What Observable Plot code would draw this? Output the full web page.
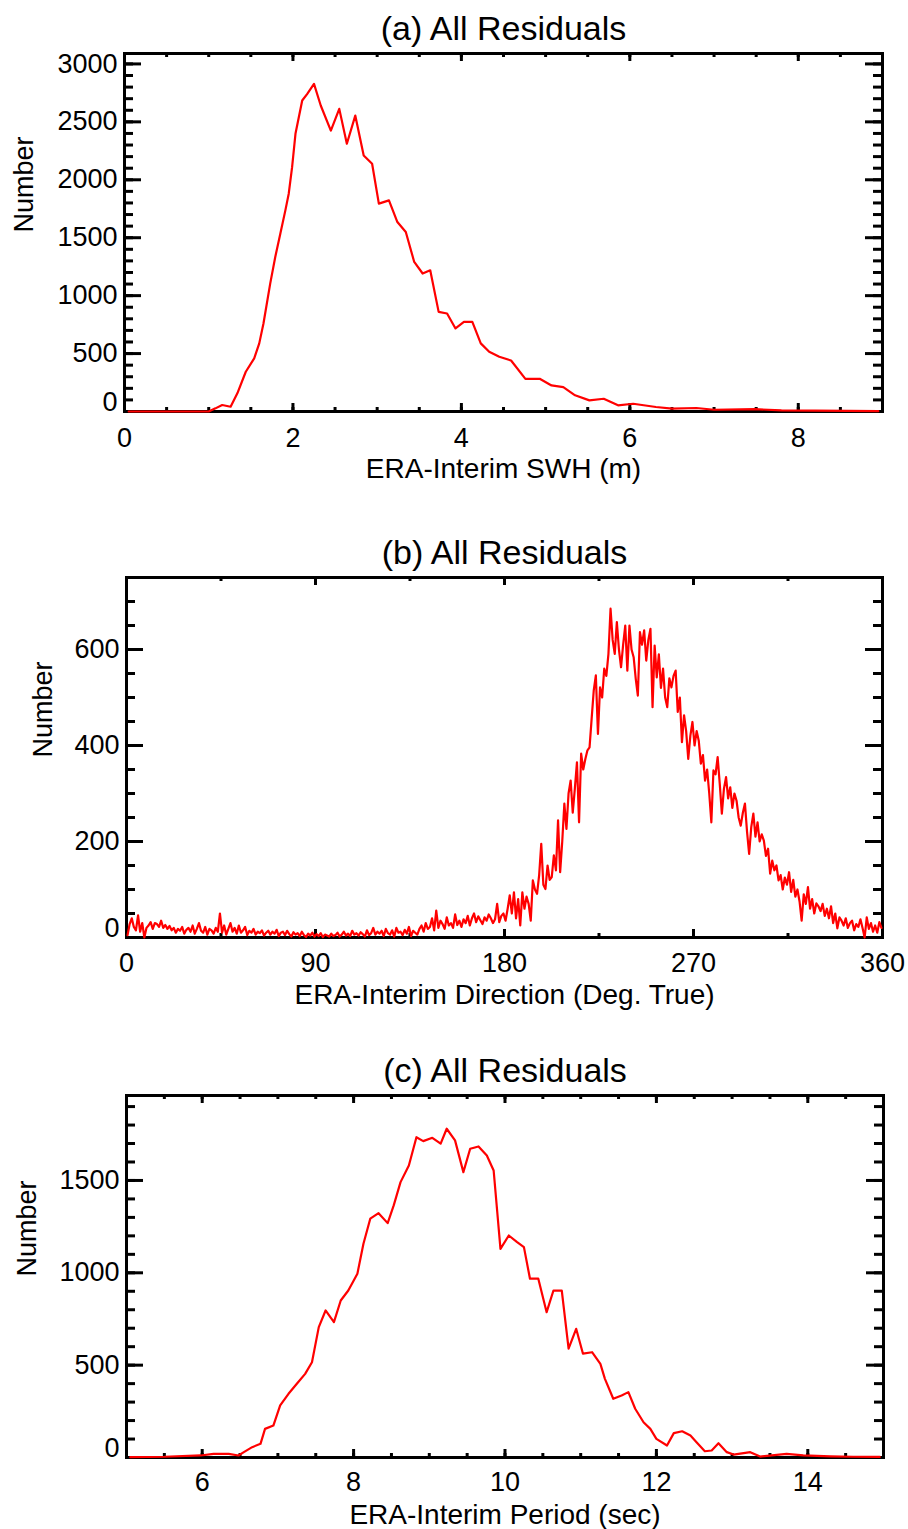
<!DOCTYPE html>
<html><head><meta charset="utf-8">
<script src="https://cdn.jsdelivr.net/npm/d3@7"></script>
<script src="https://cdn.jsdelivr.net/npm/@observablehq/plot@0.6"></script>
<style>
body{margin:0;background:#fff;}
#chart svg{display:block;}
</style></head><body><div id="chart"></div>
<script>
// ---------- Panel (a): ERA-Interim SWH ----------
const swhX = [0.05,0.5,1.0,1.08,1.16,1.26,1.34,1.44,1.54,1.60,1.65,1.73,1.79,1.85,1.91,1.95,1.99,2.03,2.11,2.17,2.25,2.33,2.45,2.55,2.64,2.74,2.84,2.94,3.02,3.14,3.24,3.34,3.44,3.54,3.63,3.73,3.83,3.93,4.03,4.13,4.23,4.33,4.45,4.59,4.76,4.93,5.07,5.21,5.35,5.52,5.69,5.86,6.04,6.31,6.5,6.79,7.0,7.48,7.8,8.2,8.6,8.95];
const swhN = [0,0,0,27,56,41,157,343,458,588,760,1104,1334,1535,1736,1880,2109,2397,2684,2741,2828,2641,2425,2612,2311,2554,2210,2138,1794,1822,1635,1549,1291,1191,1219,860,846,717,774,774,588,515,472,440,282,282,225,211,140,96,110,53,67,39,25,30,15,20,10,8,5,3];
const swhXTicks = [0,2,4,6,8];
const swhYTicks = [0,500,1000,1500,2000,2500,3000];

// ---------- Panel (b): ERA-Interim Direction (1-degree bins) ----------
const dirCounts = [
5,28,40,22,15,46,12,30,0,20,
25,32,18,30,28,22,35,20,26,18,
24,15,20,10,18,14,22,8,16,20,
12,25,8,18,30,14,10,22,6,18,
15,8,20,12,50,10,25,6,18,30,
12,20,8,25,10,15,22,5,14,10,
18,6,12,9,15,4,10,14,6,12,
8,16,3,10,12,5,14,7,2,11,
6,9,3,12,5,1,8,4,10,2,
7,3,9,1,6,4,2,8,3,5,
10,2,6,12,4,8,3,14,6,9,
4,11,7,2,15,5,9,20,6,12,
8,14,3,18,9,6,15,2,20,10,
12,5,16,8,22,3,14,10,6,18,
25,12,30,18,22,40,15,56,20,35,
28,18,42,25,30,20,48,26,35,22,
38,30,45,25,40,50,32,44,36,28,
42,35,48,40,30,38,70,32,45,50,
35,60,88,50,94,40,80,25,94,60,
85,70,35,119,100,91,130,195,110,101,
150,120,126,171,140,244,136,200,279,226,
300,327,260,310,365,240,383,350,372,390,
396,456,515,546,424,521,500,560,545,591,
685,620,591,657,600,563,610,650,556,650,
600,584,539,504,636,610,640,577,620,643,
480,608,542,590,520,560,500,480,540,521,
545,556,470,500,407,463,430,372,420,449,
400,430,410,362,380,327,350,300,240,348,
340,376,320,258,310,334,290,313,270,300,
285,250,233,260,279,220,174,230,258,210,
240,200,215,202,170,185,133,160,140,150,
119,130,100,125,110,136,95,120,85,100,
75,35,90,70,105,60,80,50,71,65,
55,70,45,60,40,65,30,50,19,42,
35,25,40,20,30,35,15,28,22,38,
20,0,42,18,30,12,25,10,32,20];
const dirBinWidth = 1;
const dirXTicks = [0,90,180,270,360];
const dirYTicks = [0,200,400,600];

// ---------- Panel (c): ERA-Interim Period ----------
const perX = [5.05,5.5,5.98,6.15,6.35,6.48,6.55,6.66,6.77,6.83,6.94,7.03,7.14,7.25,7.36,7.45,7.54,7.63,7.74,7.83,7.93,8.05,8.13,8.22,8.33,8.45,8.53,8.62,8.73,8.83,8.92,9.04,9.15,9.23,9.34,9.45,9.54,9.65,9.76,9.85,9.94,10.05,10.16,10.25,10.33,10.44,10.55,10.64,10.75,10.84,10.94,11.03,11.15,11.26,11.32,11.43,11.54,11.63,11.72,11.83,11.92,12.0,12.14,12.23,12.34,12.45,12.53,12.64,12.73,12.82,12.93,13.02,13.24,13.37,13.72,13.94,14.3,14.6,14.95];
const perN = [2,4,11,20,20,11,29,56,74,155,173,282,345,399,453,516,706,796,733,850,904,995,1157,1293,1323,1269,1365,1491,1581,1734,1713,1731,1699,1780,1717,1545,1672,1684,1635,1554,1130,1202,1166,1139,968,968,787,904,904,589,697,562,570,507,426,318,336,354,264,191,155,101,65,132,142,119,83,34,38,77,29,16,29,5,20,11,6,4,3];
const perXTicks = [6,8,10,12,14];
const perYTicks = [0,500,1000,1500];

const FONT = "'Liberation Sans', Arial, Helvetica, sans-serif";
const RED = "#ff0000";
const fmt = d => String(d);

function panel(o) {
  const {data, xDomain, yDomain, xTicks, xMinor, yTicks, yMinor, title, xLabel,
         height, mt, mb, ml, mr, numberDx, xPad} = o;
  const W = 908 - ml - mr;          // frame width in px
  const H = height - mt - mb;       // frame height in px
  const yTicksNZ = yTicks.filter(d => d !== 0);
  const tk = {stroke: "black", strokeWidth: 3};
  return Plot.plot({
    width: 908, height,
    marginTop: mt, marginBottom: mb, marginLeft: ml, marginRight: mr,
    style: {fontFamily: FONT, fontSize: "27px", color: "black", background: "white", overflow: "visible"},
    x: {domain: xDomain, label: null},
    y: {domain: yDomain, label: null},
    marks: [
      // inward ticks on left & right
      Plot.ruleY(yMinor, {...tk, insetRight: W - 9}),
      Plot.ruleY(yTicks, {...tk, insetRight: W - 17}),
      Plot.ruleY(yMinor, {...tk, insetLeft: W - 9}),
      Plot.ruleY(yTicks, {...tk, insetLeft: W - 17}),
      // inward ticks on bottom & top
      Plot.ruleX(xMinor, {...tk, insetTop: H - 4}),
      Plot.ruleX(xTicks, {...tk, insetTop: H - 8}),
      Plot.ruleX(xMinor, {...tk, insetBottom: H - 4}),
      Plot.ruleX(xTicks, {...tk, insetBottom: H - 8}),
      // tick labels
      Plot.axisY(yTicksNZ, {anchor: "left", tickSize: 0, tickPadding: 7, fontSize: 27, fill: "black", label: null, tickFormat: fmt}),
      Plot.axisY([0], {anchor: "left", tickSize: 0, tickPadding: 7, fontSize: 27, fill: "black", label: null, dy: -9, tickFormat: fmt}),
      Plot.axisX(xTicks, {anchor: "bottom", tickSize: 0, tickPadding: xPad, fontSize: 27, fill: "black", label: null, tickFormat: fmt}),
      Plot.frame({stroke: "black", strokeWidth: 3}),
      Plot.line(data, {x: "x", y: "n", stroke: RED, strokeWidth: 2.2}),
      Plot.text([title], {frameAnchor: "top", dy: -14, lineAnchor: "bottom", fontSize: 34, fill: "black"}),
      Plot.text([xLabel], {frameAnchor: "bottom", dy: 66, fontSize: 28, fill: "black"}),
      Plot.text(["Number"], {frameAnchor: "left", dx: numberDx, rotate: -90, fontSize: 27, fill: "black"})
    ]
  });
}

const swhData = swhX.map((x, i) => ({x, n: swhN[i]}));
const dirData = dirCounts.map((n, i) => ({x: i * dirBinWidth + dirBinWidth / 2, n}));
const perData = perX.map((x, i) => ({x, n: perN[i]}));

const chart = document.getElementById("chart");
chart.append(panel({
  data: swhData, xDomain: [0, 9], yDomain: [0, 3090],
  xTicks: swhXTicks, xMinor: d3.range(0, 9.01, 0.5), yTicks: swhYTicks, yMinor: d3.range(0, 3001, 100),
  title: "(a) All Residuals", xLabel: "ERA-Interim SWH (m)",
  height: 508, mt: 53, mb: 97, ml: 124, mr: 26, numberDx: -100, xPad: 16
}));
chart.append(panel({
  data: dirData, xDomain: [0, 360], yDomain: [0, 750],
  xTicks: dirXTicks, xMinor: d3.range(0, 361, 45), yTicks: dirYTicks, yMinor: d3.range(0, 751, 50),
  title: "(b) All Residuals", xLabel: "ERA-Interim Direction (Deg. True)",
  height: 521, mt: 69, mb: 92, ml: 126, mr: 26, numberDx: -83, xPad: 15
}));
chart.append(panel({
  data: perData, xDomain: [5, 15], yDomain: [0, 1960],
  xTicks: perXTicks, xMinor: d3.range(5, 15.01, 0.5), yTicks: perYTicks, yMinor: d3.range(0, 1901, 100),
  title: "(c) All Residuals", xLabel: "ERA-Interim Period (sec)",
  height: 500, mt: 66, mb: 72, ml: 126, mr: 25, numberDx: -99, xPad: 14
}));
</script></body></html>
